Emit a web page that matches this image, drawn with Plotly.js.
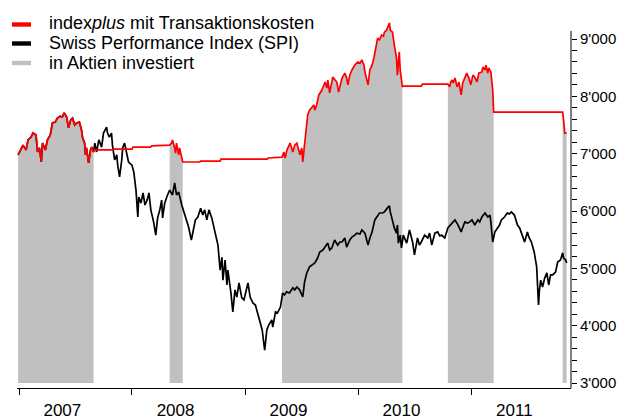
<!DOCTYPE html>
<html>
<head>
<meta charset="utf-8">
<script src="https://cdn.plot.ly/plotly-3.0.1.min.js"></script>
<style>html,body{margin:0;padding:0;background:#fff;}#chart{width:633px;height:419px;}</style>
</head>
<body>
<div id="chart"></div>
<script>
// ---- data ----
var redDates = [
"2006-12-29","2007-01-14","2007-01-24","2007-01-30","2007-02-09","2007-02-15","2007-02-25","2007-03-02","2007-03-08","2007-03-14","2007-03-18","2007-03-27","2007-04-03","2007-04-12","2007-04-19","2007-04-28","2007-05-05","2007-05-14","2007-05-21","2007-05-27","2007-06-04","2007-06-10","2007-06-17","2007-06-23","2007-06-30","2007-07-06","2007-07-15","2007-07-22","2007-07-25","2007-08-01","2007-08-04","2007-08-07","2007-08-14","2007-08-20","2007-08-24","2007-08-30",
"2007-09-03","2007-10-31","2007-11-03","2008-01-01","2008-01-04","2008-03-01","2008-03-05","2008-05-02",
"2008-05-08","2008-05-11","2008-05-18","2008-05-21","2008-05-24","2008-05-31","2008-06-03","2008-06-10","2008-06-13",
"2008-08-07","2008-08-10","2008-10-12","2008-10-15","2009-03-13","2009-03-16","2009-04-30",
"2009-05-06","2009-05-10","2009-05-16","2009-05-26","2009-06-01","2009-06-04","2009-06-10","2009-06-17","2009-06-27","2009-07-03","2009-07-06","2009-07-12","2009-07-15","2009-07-22","2009-07-28","2009-08-04","2009-08-11","2009-08-14","2009-08-20","2009-08-27","2009-09-06","2009-09-16","2009-09-22","2009-09-25","2009-10-01","2009-10-11","2009-10-17","2009-10-24","2009-10-30","2009-11-10","2009-11-19","2009-11-25","2009-11-29","2009-12-05","2009-12-12","2009-12-21","2009-12-31","2010-01-07","2010-01-13","2010-01-20","2010-01-23","2010-01-29","2010-02-02","2010-02-08","2010-02-15","2010-02-21","2010-02-24","2010-03-05","2010-03-11","2010-03-18","2010-03-24","2010-03-27","2010-04-03","2010-04-06","2010-04-12","2010-04-15","2010-04-22","2010-04-28","2010-05-02","2010-05-05","2010-05-08","2010-05-11","2010-05-14","2010-05-17","2010-05-21","2010-05-24",
"2010-05-27","2010-07-24","2010-07-28","2010-10-18",
"2010-10-24","2010-10-27","2010-11-01","2010-11-04","2010-11-10","2010-11-17","2010-11-23","2010-11-30","2010-12-05","2010-12-12","2010-12-18","2010-12-25","2010-12-31","2011-01-07","2011-01-13","2011-01-20","2011-01-26","2011-02-05","2011-02-08","2011-02-15","2011-02-18","2011-02-24","2011-02-27","2011-03-06","2011-03-12","2011-03-15",
"2011-10-24","2011-10-27","2011-10-31","2011-11-06"];

var redValues = [
6980,7150,7065,7240,7290,7360,7325,7030,7100,6855,7185,7065,7240,7325,7535,7550,7620,7655,7640,7710,7640,7450,7590,7620,7500,7535,7550,7415,7290,7185,6980,7100,6840,7065,7115,7030,
7065,7065,7080,7080,7115,7115,7135,7150,
7185,7240,7100,7010,7185,6980,7100,6890,6855,
6855,6870,6870,6905,6905,6925,6940,
7030,6925,7065,7185,7065,7030,7150,7185,6980,7100,6855,7150,7240,7675,7760,7800,7850,7760,7850,8025,8110,8250,8145,8285,8060,8335,8285,8250,8075,8320,8405,8320,8200,8370,8460,8545,8600,8580,8635,8545,8425,8285,8200,8460,8545,8670,8775,9015,8985,9070,9050,9120,9155,9190,9280,9155,9120,8895,8720,8670,8370,8635,8775,8460,8250,8165,
8180,8180,8215,8215,
8165,8250,8285,8233,8320,8165,8250,8025,8233,8335,8405,8320,8200,8370,8335,8250,8405,8425,8510,8460,8545,8405,8495,8425,8110,7725,
7725,7585,7360,7360];

// SPI: identical to indexplus while invested in 2007, then its own path
var spiDates2007 = redDates.slice(0, 36);
var spiValues2007 = redValues.slice(0, 36);
var spiDatesLater = [
"2007-09-03","2007-09-09","2007-09-16","2007-09-25","2007-10-01","2007-10-11","2007-10-14","2007-10-20","2007-10-27","2007-10-30","2007-11-06","2007-11-13","2007-11-16","2007-11-22","2007-11-29","2007-12-02","2007-12-08","2007-12-15","2007-12-21","2008-01-01","2008-01-07","2008-01-14","2008-01-20","2008-01-23","2008-01-30","2008-02-06","2008-02-12","2008-02-19","2008-02-25","2008-03-02","2008-03-08","2008-03-11","2008-03-18","2008-03-24","2008-03-31","2008-04-06","2008-04-09","2008-04-16","2008-04-25","2008-05-02","2008-05-11","2008-05-18","2008-05-24","2008-05-31","2008-06-10","2008-06-17","2008-06-26","2008-07-02","2008-07-11","2008-07-18","2008-07-24","2008-08-01","2008-08-10","2008-08-17","2008-08-23","2008-08-30","2008-09-06","2008-09-15","2008-09-22","2008-09-28","2008-10-05","2008-10-12","2008-10-18","2008-10-21","2008-10-28","2008-11-03","2008-11-06","2008-11-16","2008-11-22","2008-11-29","2008-12-05","2008-12-12","2008-12-21","2008-12-28","2009-01-04","2009-01-10","2009-01-17","2009-01-26","2009-02-03","2009-02-09","2009-02-15","2009-02-25","2009-03-02","2009-03-05","2009-03-12","2009-03-18","2009-03-28","2009-03-31","2009-04-09","2009-04-15","2009-04-25","2009-05-02","2009-05-08","2009-05-15","2009-05-24","2009-06-04","2009-06-10","2009-06-17","2009-06-26","2009-07-06","2009-07-12","2009-07-19","2009-07-28","2009-08-04","2009-08-14","2009-08-23","2009-08-30","2009-09-09","2009-09-16","2009-09-25","2009-10-01","2009-10-08","2009-10-17","2009-10-27","2009-11-03","2009-11-10","2009-11-19","2009-11-25","2009-12-05","2009-12-12","2009-12-21","2009-12-28","2010-01-07","2010-01-13","2010-01-23","2010-02-02","2010-02-08","2010-02-15","2010-02-24","2010-03-05","2010-03-11","2010-03-21","2010-03-27","2010-04-06","2010-04-12","2010-04-15","2010-04-22","2010-04-28","2010-05-05","2010-05-08","2010-05-11","2010-05-17","2010-05-21","2010-05-27","2010-06-07","2010-06-16","2010-06-26","2010-07-02","2010-07-12","2010-07-18","2010-07-24","2010-08-04","2010-08-14","2010-08-20","2010-08-27","2010-09-06","2010-09-15","2010-09-22","2010-09-28","2010-10-08","2010-10-18","2010-10-24","2010-11-04","2010-11-10","2010-11-20","2010-11-30","2010-12-02","2010-12-12","2010-12-21","2010-12-28","2011-01-04","2011-01-13","2011-01-23","2011-01-29","2011-02-05","2011-02-15","2011-02-24","2011-03-03","2011-03-06","2011-03-12","2011-03-19","2011-03-28","2011-04-03","2011-04-09","2011-04-19","2011-04-28","2011-05-05","2011-05-11","2011-05-21","2011-05-31","2011-06-07","2011-06-13","2011-06-23","2011-07-02","2011-07-08","2011-07-15","2011-07-24","2011-08-01","2011-08-04","2011-08-07","2011-08-10","2011-08-14","2011-08-20","2011-08-27","2011-09-03","2011-09-09","2011-09-15","2011-09-22","2011-10-01","2011-10-08","2011-10-17","2011-10-24","2011-10-27","2011-11-03","2011-11-06"];
var spiValuesLater = [
7185,7030,7240,7115,7360,7465,7360,7290,7360,7150,
6890,6980,6800,6595,6890,7100,7185,7030,6855,6800,
6680,6365,5895,6245,6140,6315,6105,6190,6315,6020,
5895,5810,5580,5880,6020,6190,5880,6140,6280,6365,
6280,6490,6280,6330,6105,5985,5810,5720,5495,5720,
5845,5895,6050,5930,6020,5845,6020,5880,5720,5545,
5405,4970,5195,4795,5145,4710,4970,4570,4240,4625,
4500,4745,4485,4450,4625,4745,4500,4395,4360,4240,
4100,3925,3700,3575,3925,4010,4100,3975,4240,4220,
4325,4570,4535,4590,4570,4660,4625,4675,4625,4500,
4765,4920,5025,5060,5095,5180,5285,5320,5370,5440,
5320,5355,5495,5405,5460,5460,5530,5370,5495,5545,
5580,5615,5600,5670,5615,5405,5530,5635,5845,5930,
5965,5965,5985,6055,6090,5985,5810,5705,5615,5755,
5440,5580,5355,5580,5440,5670,5460,5235,5530,5405,
5460,5580,5530,5615,5405,5615,5635,5565,5580,5530,
5705,5740,5810,5845,5755,5635,5670,5810,5790,5810,
5845,5755,5845,5810,5895,5965,5895,5930,5810,5460,
5635,5720,5755,5845,5895,5965,5950,5985,5930,5755,
5705,5615,5460,5635,5530,5460,5285,5025,4625,4360,
4625,4795,4675,4830,4920,4710,4885,4885,4935,5110,
5145,5270,5180,5145,5095];

// periods "in Aktien investiert"
var investedPeriods = [
["2006-12-29","2007-08-30"],
["2008-05-02","2008-06-13"],
["2009-04-30","2010-05-24"],
["2010-10-18","2011-03-15"],
["2011-10-24","2011-11-06"]];

var yearLabels = ["2007","2008","2009","2010","2011"];
var yearLabelDates = ["2007-05-21","2008-05-21","2009-05-21","2010-05-21","2011-05-21"];
var yearStarts = ["2007-01-01","2008-01-01","2009-01-01","2010-01-01","2011-01-01"];
var yTickVals = [3000,4000,5000,6000,7000,8000,9000];
var yTickText = ["3'000","4'000","5'000","6'000","7'000","8'000","9'000"];
var yMinorVals = [3200,3400,3600,3800,4200,4400,4600,4800,5200,5400,5600,5800,6200,6400,6600,6800,7200,7400,7600,7800,8200,8400,8600,8800];
var legendNames = ["index<i>plus</i> mit Transaktionskosten","Swiss Performance Index (SPI)","in Aktien investiert"];

// ---- build ----
var spiDates = spiDates2007.concat(spiDatesLater);
var spiValues = spiValues2007.concat(spiValuesLater);

var baseValue = 3000;
var gx = [], gy = [];
investedPeriods.forEach(function (p, k) {
  var sx = [], sy = [];
  for (var i = 0; i < redDates.length; i++) {
    if (redDates[i] >= p[0] && redDates[i] <= p[1]) { sx.push(redDates[i]); sy.push(redValues[i]); }
  }
  sx.push(sx[sx.length - 1]); sy.push(baseValue);
  sx.push(sx[0]); sy.push(baseValue);
  if (k > 0) { gx.push(null); gy.push(null); }
  gx = gx.concat(sx); gy = gy.concat(sy);
});

var W = 633, H = 419, L = 17, R = 62, T = 15, B = 31;
var pw = W - L - R, ph = H - T - B;
function px2x(p) { return (p - L) / pw; }
function py2y(p) { return (H - B - p) / ph; }

var traces = [
  {x: gx, y: gy, type: 'scatter', mode: 'lines', fill: 'toself', fillcolor: '#c0c0c0',
   line: {width: 0, color: '#c0c0c0'}, connectgaps: false, hoverinfo: 'skip', showlegend: false},
  {x: spiDates, y: spiValues, type: 'scatter', mode: 'lines', line: {color: '#000000', width: 1.7}, showlegend: false},
  {x: redDates, y: redValues, type: 'scatter', mode: 'lines', line: {color: '#ff0000', width: 1.7}, showlegend: false}
];

var yRange = [2913, 9419];
var legendColors = ['#ff0000', '#000000', '#c0c0c0'];
var rowText = [23, 43, 63];
var rowBar = [24.5, 43.5, 63];
var shapes = [
  {type: 'line', xref: 'paper', yref: 'y', x0: 1, x1: 1, y0: yRange[0], y1: 9140, line: {color: '#000', width: 1}}
];
var annotations = [];
for (var i = 0; i < 3; i++) {
  shapes.push({type: 'rect', xref: 'paper', yref: 'paper', x0: px2x(12), x1: px2x(31),
    y0: py2y(rowBar[i] + 2.2), y1: py2y(rowBar[i] - 2.2), fillcolor: legendColors[i], line: {width: 0}});
  annotations.push({xref: 'paper', yref: 'paper', x: px2x(47), y: py2y(rowText[i]), xanchor: 'left', yanchor: 'middle',
    text: legendNames[i], showarrow: false, font: {family: 'Liberation Sans, Arial, sans-serif', size: 18, color: '#000'}});
}

var layout = {
  width: W, height: H,
  margin: {l: L, r: R, t: T, b: B, pad: 0},
  paper_bgcolor: '#fff', plot_bgcolor: '#fff',
  showlegend: false,
  xaxis: {
    type: 'date', range: ['2006-12-25 12:00', '2011-11-20'],
    showgrid: false, zeroline: false, showline: true, linecolor: '#000', linewidth: 1,
    tickmode: 'array', tickvals: yearLabelDates, ticktext: yearLabels,
    ticks: 'outside', ticklen: 7, tickcolor: 'rgba(0,0,0,0)',
    tickfont: {family: 'Liberation Sans, Arial, sans-serif', size: 17, color: '#000'},
    minor: {tickmode: 'array', tickvals: yearStarts, ticks: 'outside', ticklen: 6, tickcolor: '#000', tickwidth: 1, showgrid: false},
    automargin: false, fixedrange: true
  },
  yaxis: {
    side: 'right', range: yRange,
    showgrid: false, zeroline: false, showline: false,
    tickmode: 'array', tickvals: yTickVals, ticktext: yTickText,
    ticks: 'outside', ticklen: 5, tickcolor: '#000', tickwidth: 1,
    minor: {tickmode: 'array', tickvals: yMinorVals, ticks: 'outside', ticklen: 5, tickcolor: '#000', tickwidth: 1, showgrid: false},
    tickfont: {family: 'Liberation Sans, Arial, sans-serif', size: 15, color: '#000'},
    automargin: false, fixedrange: true
  },
  shapes: shapes,
  annotations: annotations
};

Plotly.newPlot('chart', traces, layout, {displayModeBar: false, staticPlot: true});
</script>
</body>
</html>
